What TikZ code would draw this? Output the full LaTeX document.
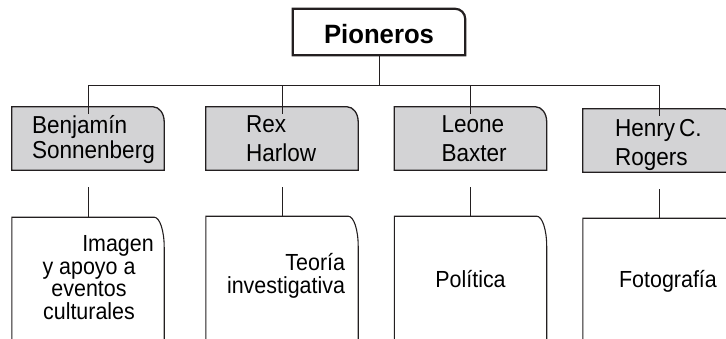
\documentclass[tikz,border=0pt]{standalone}
\usepackage{fontspec}
\setmainfont{Liberation Sans}[FakeStretch=0.92]
\newfontfamily\headfont{Liberation Sans}[FakeStretch=0.97]
\usetikzlibrary{positioning}
\definecolor{tabgray}{RGB}{211,211,213}
\definecolor{inkline}{RGB}{35,31,32}

\begin{document}
\begin{tikzpicture}[
  x=1pt, y=1pt,
  tabbox/.style={minimum width=152pt, minimum height=63pt, inner sep=0pt},
  pagebox/.style={minimum width=152pt, minimum height=150pt, inner sep=0pt},
  persontext/.style={inner sep=0pt, align=left, anchor=base west, font=\fontsize{24.5}{29}\selectfont},
  areatext/.style={inner sep=0pt, anchor=base, font=\fontsize{23.3}{22.5}\selectfont},
  link/.style={draw=inkline, line width=1pt}
]
\useasboundingbox (0,0) rectangle (726,-338);
\clip (0,0) rectangle (726,-338);

% Header
\node[minimum width=172pt, minimum height=46pt, inner sep=0pt, text height=22pt, text depth=0pt,
      font=\headfont\bfseries\fontsize{26.5}{30}\selectfont] (pio) at (379,-32) {Pioneros};
\draw[line width=2.2pt, draw=inkline] (pio.south west) -- (pio.north west)
  -- ([xshift=-10pt]pio.north east) arc[start angle=90, end angle=0, radius=10pt]
  -- (pio.south east) -- cycle;

% Pioneers (gray tabs)
\node[tabbox] (benj) at (88,-138.5) {};
\node[tabbox] (rex) at (282,-138.5) {};
\node[tabbox] (leone) at (470.5,-138.5) {};
\node[tabbox] (henry) at (659,-140.5) {};

% Areas (tall cards)
\node[pagebox, below=47pt of benj] (img) {};
\node[pagebox, below=46pt of rex] (teo) {};
\node[pagebox, below=46pt of leone] (pol) {};
\node[pagebox, below=46pt of henry] (foto) {};

% Outlines
\foreach \b in {benj,rex,leone,henry}
  \draw[fill=tabgray, draw=inkline, line width=1.3pt] (\b.south west) -- (\b.north west)
    -- ([xshift=-11pt]\b.north east) arc[start angle=90, end angle=0, x radius=11pt, y radius=15pt]
    -- (\b.south east) -- cycle;
\foreach \b in {img,teo,pol,foto}
  \draw[draw=inkline, line width=1.1pt] (\b.south west) -- (\b.north west)
    -- ([xshift=-10pt]\b.north east) arc[start angle=90, end angle=0, x radius=10pt, y radius=30pt]
    -- (\b.south east);

% Connectors
\foreach \b in {benj,rex,leone,henry}
  \draw[link] (pio.south) -- ++(0,-30) -| ([yshift=-7pt]\b.north);
\foreach \a/\c in {benj/img, rex/teo, leone/pol, henry/foto}
  \draw[link] ([yshift=-17pt]\a.south) -- (\c.north);

% Texts (base = last line)
\node[persontext, font=\fontsize{24.5}{25}\selectfont] (benj-t) at ([xshift=20pt, yshift=-52pt]benj.north west) {Benjamín\\Sonnenberg};
\node[persontext] (rex-t) at ([xshift=40pt, yshift=-55pt]rex.north west) {Rex\\Harlow};
\node[persontext] (leone-t) at ([xshift=47pt, yshift=-55pt]leone.north west) {Leone\\Baxter};
\node[persontext] (henry-t) at ([xshift=32pt, yshift=-57pt]henry.north west) {Henry\,C.\\Rogers};

\node[areatext, align=center] (img-t) at ([xshift=1pt, yshift=-102pt]img.north) {\hspace*{58pt}Imagen\\y apoyo a\\eventos\\culturales};
\node[areatext, align=right, anchor=base east] (teo-t) at ([xshift=-13pt, yshift=-77pt]teo.north east) {Teoría\\investigativa};
\node[areatext] (pol-t) at ([yshift=-71pt]pol.north) {Política};
\node[areatext] (foto-t) at ([xshift=9pt, yshift=-69pt]foto.north) {Fotografía};

\end{tikzpicture}
\end{document}
